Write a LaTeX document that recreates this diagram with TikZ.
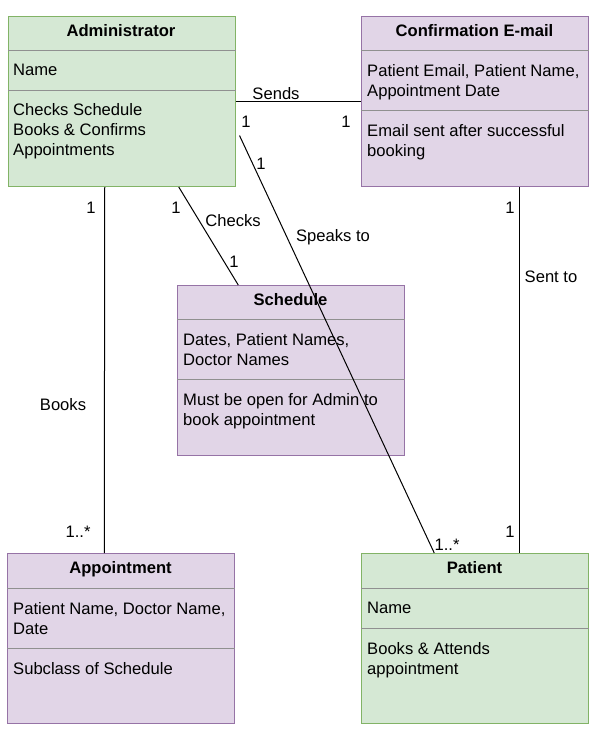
\documentclass[tikz,border=0pt]{standalone}
\usepackage{fontspec}
\setmainfont{Liberation Sans}
\definecolor{gfill}{HTML}{D5E8D4}
\definecolor{gline}{HTML}{82B366}
\definecolor{pfill}{HTML}{E1D5E7}
\definecolor{pline}{HTML}{9673A6}
\definecolor{divgray}{HTML}{909090}
\begin{document}
\begin{tikzpicture}[x=1pt,y=-1pt,
  every node/.style={font=\fontsize{16.6}{20}\selectfont},
  box/.style={draw, line width=1pt, anchor=north west, inner sep=0pt, minimum width=226.5pt, minimum height=170pt},
  gbox/.style={box, draw=gline, fill=gfill},
  pbox/.style={box, draw=pline, fill=pfill},
  title/.style={anchor=base, font=\bfseries\fontsize{16.6}{20}\selectfont, inner sep=0pt},
  txt/.style={anchor=north west, align=left, inner sep=0pt},
  divider/.style={draw=divgray, line width=1pt},
  conn/.style={draw=black, line width=1pt},
  lbl/.style={anchor=base, inner sep=0pt}
]
\useasboundingbox (0,0) rectangle (602,739);
\fill[white] (0,0) rectangle (602,739);

% Administrator
\node[gbox] (adm) at (8,16) {};
\draw[divider] ([yshift=-34pt]adm.north west) -- ([yshift=-34pt]adm.north east);
\draw[divider] ([yshift=-74pt]adm.north west) -- ([yshift=-74pt]adm.north east);
\node[title] (admT) at (121,36) {Administrator};
\node[txt] (admA) at (13,64) {Name};
\node[txt] (admM) at (13,103) {Checks Schedule\\Books \& Confirms\\Appointments};

% Confirmation E-mail
\node[pbox] (conf) at (361,16) {};
\draw[divider] ([yshift=-34pt]conf.north west) -- ([yshift=-34pt]conf.north east);
\draw[divider] ([yshift=-94pt]conf.north west) -- ([yshift=-94pt]conf.north east);
\node[title] (confT) at (474.5,36) {Confirmation E-mail};
\node[txt] (confA) at (367,64) {Patient Email, Patient Name,\\Appointment Date};
\node[txt] (confM) at (367,124) {Email sent after successful\\booking};

% Schedule
\node[pbox] (sched) at (177,285) {};
\draw[divider] ([yshift=-34pt]sched.north west) -- ([yshift=-34pt]sched.north east);
\draw[divider] ([yshift=-94pt]sched.north west) -- ([yshift=-94pt]sched.north east);
\node[title] (schedT) at (290.5,305) {Schedule};
\node[txt] (schedA) at (183,333) {Dates, Patient Names,\\Doctor Names};
\node[txt] (schedM) at (183,393) {Must be open for Admin to\\book appointment};

% Appointment
\node[pbox] (appt) at (7,553) {};
\draw[divider] ([yshift=-35pt]appt.north west) -- ([yshift=-35pt]appt.north east);
\draw[divider] ([yshift=-95pt]appt.north west) -- ([yshift=-95pt]appt.north east);
\node[title] (apptT) at (120.5,573) {Appointment};
\node[txt] (apptA) at (13,602) {Patient Name, Doctor Name,\\Date};
\node[txt] (apptM) at (13,662) {Subclass of Schedule};

% Patient
\node[gbox] (pat) at (361,553) {};
\draw[divider] ([yshift=-35pt]pat.north west) -- ([yshift=-35pt]pat.north east);
\draw[divider] ([yshift=-75pt]pat.north west) -- ([yshift=-75pt]pat.north east);
\node[title] (patT) at (474.5,573) {Patient};
\node[txt] (patA) at (367,602) {Name};
\node[txt] (patM) at (367,642) {Books \& Attends\\appointment};

% Connectors
\draw[conn] (adm.east) -- (conf.west);
\draw[conn] ([xshift=-17pt]adm.south) -- ([xshift=-16.5pt]appt.north);
\draw[conn] ([xshift=57pt]adm.south) -- ([xshift=-52.5pt]sched.north);
\coordinate (spk) at ([xshift=4pt,yshift=-34pt]adm.east);
\draw[conn] (spk) -- ([xshift=-40.5pt]pat.north);
\draw[conn] ([xshift=44.5pt]conf.south) -- ([xshift=44.5pt]pat.north);

% Labels
\node[lbl] (lSends) at (276,99) {Sends};
\node[lbl] (lS1) at (246,127) {1};
\node[lbl] (lS2) at (346,127) {1};
\node[lbl] (lB1) at (91,213) {1};
\node[lbl] (lBooks) at (63,410) {Books};
\node[lbl] (lB2) at (78,537) {1..*};
\node[lbl] (lC1) at (176,213) {1};
\node[lbl] (lChecks) at (233,226) {Checks};
\node[lbl] (lC2) at (234,267) {1};
\node[lbl] (lP1) at (261,169) {1};
\node[lbl] (lSpeaks) at (333,241) {Speaks to};
\node[lbl] (lP2) at (447,550) {1..*};
\node[lbl] (lT1) at (510,213) {1};
\node[lbl] (lSent) at (551,282) {Sent to};
\node[lbl] (lT2) at (510,537) {1};
\end{tikzpicture}
\end{document}
